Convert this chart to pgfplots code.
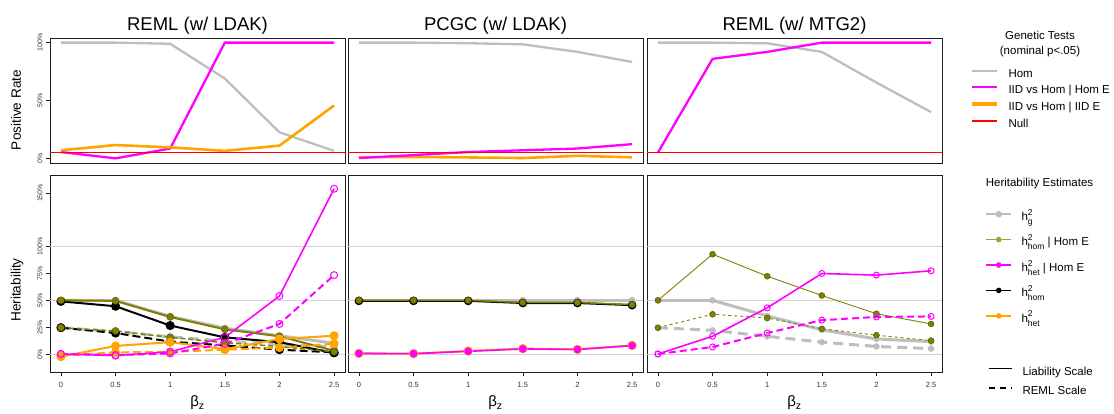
\documentclass[border=0pt]{standalone}
\usepackage{pgfplots}
\pgfplotsset{compat=1.18}
\usepackage{amsmath}
\usepackage{fontspec}
\setmainfont{Liberation Sans}
\definecolor{cgray}{RGB}{190,190,190}
\definecolor{colive}{RGB}{128,128,0}
\definecolor{cmag}{RGB}{255,0,255}
\definecolor{corange}{RGB}{255,165,0}
\definecolor{cgrid}{RGB}{211,211,211}
\definecolor{cbox}{RGB}{30,30,30}
\newcommand\hsq[1]{h\rlap{\raisebox{5.2pt}{\fontsize{8.5}{8.5}\selectfont 2}}\raisebox{-4pt}{\fontsize{8.5}{8.5}\selectfont #1}}
\pgfplotsset{
  panel/.style={scale only axis, width=295pt, xmin=-0.1, xmax=2.6,
    axis line style={cbox, line width=0.9pt}, tick style={cbox, line width=0.6pt},
    tick align=outside, major tick length=4pt, xtick pos=bottom, ytick pos=left,
    clip=true, anchor=north west},
  toppanel/.style={panel, height=125pt, ymin=-4, ymax=104, xtick=\empty},
  botpanel/.style={panel, height=197pt, ymin=-16.8, ymax=166.8,
    xtick={0,0.5,1,1.5,2,2.5}, xticklabels={0,0.5,1,1.5,2,2.5},
    xticklabel style={font=\fontsize{7.5}{8}\selectfont, text=black!80, yshift=-2.5pt}},
  ylab/.style={yticklabel style={rotate=90, anchor=south, font=\fontsize{7}{7}\selectfont, text=black!80}},
  grd/.style={cgrid, line width=0.8pt, forget plot},
  gS/.style={cgray, line width=3pt, mark=*, mark size=#1, mark options={solid, fill=cgray, draw=cgray, line width=0.4pt}},
  gD/.style={gS=#1, dash pattern=on 10pt off 6pt},
  oS/.style={colive, line width=#1, mark=*, mark size=3.5pt, mark options={solid, fill=colive, draw=colive!60!black, line width=0.4pt}},
  oD/.style={oS=#1, dash pattern=on 5pt off 3pt},
  kS/.style={black, line width=2pt, mark=*, mark size=3.5pt, mark options={solid, fill=black}},
  kD/.style={kS, dash pattern=on 8pt off 4pt},
  yS/.style={corange, line width=2pt, mark=*, mark size=3.5pt, mark options={solid, fill=corange}},
  yD/.style={yS, dash pattern=on 8pt off 4pt},
  mS/.style={cmag, line width=1.6pt, mark=o, mark size=3.5pt, mark options={solid, line width=1pt}},
  mD/.style={mS, line width=2pt, dash pattern=on 7pt off 4pt},
}
\begin{document}
\begin{tikzpicture}
\useasboundingbox (0,0) rectangle (1114pt,-413pt);
% ---------------- top row ----------------
\begin{axis}[toppanel, ylab, at={(50pt,-38pt)}, ytick={0,50,100}, yticklabels={0\%,50\%,100\%}]
\addplot[cgray, line width=2.3pt] coordinates {(0,100)(0.5,100)(1,99)(1.5,69)(2,22.5)(2.5,6.5)};
\addplot[cmag, line width=2.3pt] coordinates {(0,5.5)(0.5,0)(1,8.5)(1.5,100)(2,100)(2.5,100)};
\addplot[corange, line width=2.6pt] coordinates {(0,7)(0.5,11.5)(1,9.5)(1.5,6.5)(2,11)(2.5,45.7)};
\addplot[red, line width=1pt] coordinates {(-0.1,5)(2.6,5)};
\end{axis}
\begin{axis}[toppanel, at={(348pt,-38pt)}, ytick=\empty]
\addplot[cgray, line width=2.3pt] coordinates {(0,100)(0.5,100)(1,99.5)(1.5,98.5)(2,92)(2.5,83.3)};
\addplot[corange, line width=2.6pt] coordinates {(0,1)(0.5,1.2)(1,0.8)(1.5,0.3)(2,2.2)(2.5,0.9)};
\addplot[cmag, line width=2.3pt] coordinates {(0,0.3)(0.5,2.8)(1,5.5)(1.5,7)(2,8.5)(2.5,12.3)};
\addplot[red, line width=1pt] coordinates {(-0.1,5)(2.6,5)};
\end{axis}
\begin{axis}[toppanel, at={(647pt,-38pt)}, ytick=\empty]
\addplot[cgray, line width=2.3pt] coordinates {(0,100)(0.5,100)(1,99.4)(1.5,92)(2,65.5)(2.5,40)};
\addplot[cmag, line width=2.3pt] coordinates {(0,5)(0.5,86)(1,92)(1.5,100)(2,100)(2.5,100)};
\addplot[red, line width=1pt] coordinates {(-0.1,5)(2.6,5)};
\end{axis}
% ---------------- bottom row ----------------
\begin{axis}[botpanel, ylab, at={(50pt,-175pt)}, ytick={0,25,50,75,100,150}, yticklabels={0\%,25\%,50\%,75\%,100\%,150\%}]
\addplot[grd] coordinates {(-0.1,0)(2.6,0)};
\addplot[grd] coordinates {(-0.1,50)(2.6,50)};
\addplot[grd] coordinates {(-0.1,100)(2.6,100)};
\addplot[gS=3.5pt] coordinates {(0,50)(0.5,50)(1,35)(1.5,24)(2,17)(2.5,10)};
\addplot[gD=3.5pt] coordinates {(0,24.5)(0.5,21)(1,16)(1.5,12)(2,9)(2.5,6.5)};
\addplot[kS] coordinates {(0,49)(0.5,44.5)(1,26.5)(1.5,15.5)(2,11)(2.5,1)};
\addplot[kD] coordinates {(0,24.5)(0.5,19.5)(1,11.5)(1.5,8)(2,4)(2.5,1.5)};
\addplot[oS=2pt] coordinates {(0,50)(0.5,49.5)(1,34.5)(1.5,23)(2,16.5)(2.5,3)};
\addplot[oD=1.5pt] coordinates {(0,24.5)(0.5,21.5)(1,15.5)(1.5,10.5)(2,7)(2.5,2)};
\addplot[yS] coordinates {(0,-2.5)(0.5,7.5)(1,11)(1.5,4.5)(2,14)(2.5,17)};
\addplot[yD] coordinates {(0,-1.5)(0.5,1.5)(1,2)(1.5,4)(2,6)(2.5,9.5)};
\addplot[mS] coordinates {(0,0)(0.5,-1.5)(1,2)(1.5,15.5)(2,54)(2.5,154)};
\addplot[mD] coordinates {(0,0)(0.5,-1)(1,0.5)(1.5,9.5)(2,28)(2.5,73.5)};
\end{axis}
\begin{axis}[botpanel, at={(348pt,-175pt)}, ytick=\empty]
\addplot[grd] coordinates {(-0.1,0)(2.6,0)};
\addplot[grd] coordinates {(-0.1,50)(2.6,50)};
\addplot[grd] coordinates {(-0.1,100)(2.6,100)};
\addplot[gS=3.3pt] coordinates {(0,50)(0.5,50)(1,50)(1.5,50)(2,50)(2.5,50)};
\addplot[kS, mark size=3.3pt] coordinates {(0,49.5)(0.5,49.5)(1,49.5)(1.5,47.5)(2,47.5)(2.5,45.5)};
\addplot[oS=1.5pt, mark size=3.3pt] coordinates {(0,50)(0.5,50)(1,50)(1.5,48)(2,48)(2.5,46)};
\addplot[yS, mark size=3.6pt] coordinates {(0,0.5)(0.5,0.3)(1,2.8)(1.5,5)(2,4.3)(2.5,8)};
\addplot[cmag, line width=1.6pt, mark=*, mark size=3pt, mark options={fill=cmag}] coordinates {(0,0.5)(0.5,0.3)(1,2.5)(1.5,4.7)(2,4.2)(2.5,7.8)};
\end{axis}
\begin{axis}[botpanel, at={(647pt,-175pt)}, ytick=\empty]
\addplot[grd] coordinates {(-0.1,0)(2.6,0)};
\addplot[grd] coordinates {(-0.1,50)(2.6,50)};
\addplot[grd] coordinates {(-0.1,100)(2.6,100)};
\addplot[gS=3pt] coordinates {(0,50)(0.5,50)(1,35.5)(1.5,22.5)(2,14)(2.5,11.5)};
\addplot[gD=3pt] coordinates {(0,24.5)(0.5,22)(1,16.5)(1.5,11)(2,7)(2.5,5)};
\addplot[oS=0.9pt, mark size=3pt] coordinates {(0,50)(0.5,93)(1,72.5)(1.5,54.5)(2,37.5)(2.5,28)};
\addplot[oD=0.9pt, mark size=3pt, dash pattern=on 3pt off 3pt] coordinates {(0,24.5)(0.5,37)(1,33.5)(1.5,23.5)(2,17.5)(2.5,12.5)};
\addplot[mS, mark size=3pt] coordinates {(0,0)(0.5,16.5)(1,43)(1.5,75)(2,73.5)(2.5,77.5)};
\addplot[mD, mark size=3pt] coordinates {(0,0)(0.5,6.5)(1,19.5)(1.5,31.5)(2,34.5)(2.5,35)};
\end{axis}
% ---------------- legends ----------------
\begin{axis}[hide axis, scale only axis, width=10pt, height=10pt, xmin=0, xmax=1, ymin=0, ymax=1,
  at={(970pt,-69pt)}, anchor=north west,
  legend style={at={(0,1)}, anchor=north west, draw=none, fill=none, inner sep=0pt, outer sep=0pt,
    row sep=5.7pt, column sep=10pt, font=\fontsize{11.5}{12}\selectfont,
    nodes={inner sep=0pt, text height=8pt, text depth=3pt}},
  legend cell align=left,
  legend image code/.code={\draw[#1] (0pt,3.8pt) -- (25pt,3.8pt);}]
\addlegendimage{cgray, line width=2pt}\addlegendentry{Hom}
\addlegendimage{cmag, line width=2pt}\addlegendentry{IID vs Hom | Hom E}
\addlegendimage{corange, line width=3.5pt}\addlegendentry{IID vs Hom | IID E}
\addlegendimage{red, line width=1.5pt}\addlegendentry{Null}
\end{axis}
\begin{axis}[hide axis, scale only axis, width=10pt, height=10pt, xmin=0, xmax=1, ymin=0, ymax=1,
  at={(985pt,-210.5pt)}, anchor=north west,
  legend style={at={(0,1)}, anchor=north west, draw=none, fill=none, inner sep=0pt, outer sep=0pt,
    row sep=10.4pt, column sep=9pt, font=\fontsize{11.5}{12}\selectfont,
    nodes={inner sep=0pt, text height=10pt, text depth=5pt}},
  legend cell align=left,
  legend image code/.code={\draw[#1] (0pt,3.8pt) -- (25pt,3.8pt); \fill[#1] (12.5pt,3.8pt) circle (2pt);}]
\addlegendimage{cgray, line width=2.5pt}\addlegendentry{\hsq{g}}
\addlegendimage{colive!75, line width=1.5pt}\addlegendentry{\hsq{hom} | Hom E}
\addlegendimage{cmag, line width=1.5pt}\addlegendentry{\hsq{het} | Hom E}
\addlegendimage{black, line width=1.5pt}\addlegendentry{\hsq{hom}}
\addlegendimage{corange, line width=1.5pt}\addlegendentry{\hsq{het}}
\end{axis}
\begin{axis}[hide axis, scale only axis, width=10pt, height=10pt, xmin=0, xmax=1, ymin=0, ymax=1,
  at={(988pt,-367pt)}, anchor=north west,
  legend style={at={(0,1)}, anchor=north west, draw=none, fill=none, inner sep=0pt, outer sep=0pt,
    row sep=8.3pt, column sep=10pt, font=\fontsize{11.5}{12}\selectfont,
    nodes={inner sep=0pt, text height=8pt, text depth=3pt}},
  legend cell align=left,
  legend image code/.code={\draw[#1] (0pt,3.8pt) -- (23pt,3.8pt);}]
\addlegendimage{black, line width=1.5pt}\addlegendentry{Liability Scale}
\addlegendimage{black, line width=1.5pt, dash pattern=on 6pt off 5pt}\addlegendentry{REML Scale}
\end{axis}
% ---------------- text ----------------
\node[font=\fontsize{18.5}{20}\selectfont, anchor=base] at (197.5pt,-30pt) {REML (w/ LDAK)};
\node[font=\fontsize{18.5}{20}\selectfont, anchor=base] at (495.5pt,-30pt) {PCGC (w/ LDAK)};
\node[font=\fontsize{18.5}{20}\selectfont, anchor=base] at (794.5pt,-30pt) {REML (w/ MTG2)};
\node[rotate=90, font=\fontsize{13.6}{14}\selectfont] at (16pt,-110pt) {Positive Rate};
\node[rotate=90, font=\fontsize{13.6}{14}\selectfont] at (17pt,-290pt) {Heritability};
\node[font=\fontsize{15}{16}\selectfont] at (197.5pt,-403pt) {β$_{\text{z}}$};
\node[font=\fontsize{15}{16}\selectfont] at (495.5pt,-403pt) {β$_{\text{z}}$};
\node[font=\fontsize{15}{16}\selectfont] at (794.5pt,-403pt) {β$_{\text{z}}$};
\node[font=\fontsize{11.5}{12}\selectfont] at (1040pt,-35pt) {Genetic Tests};
\node[font=\fontsize{11.5}{12}\selectfont] at (1040pt,-51.5pt) {(nominal p<.05)};
\node[font=\fontsize{11.5}{12}\selectfont] at (1039.5pt,-184pt) {Heritability Estimates};
\end{tikzpicture}
\end{document}
